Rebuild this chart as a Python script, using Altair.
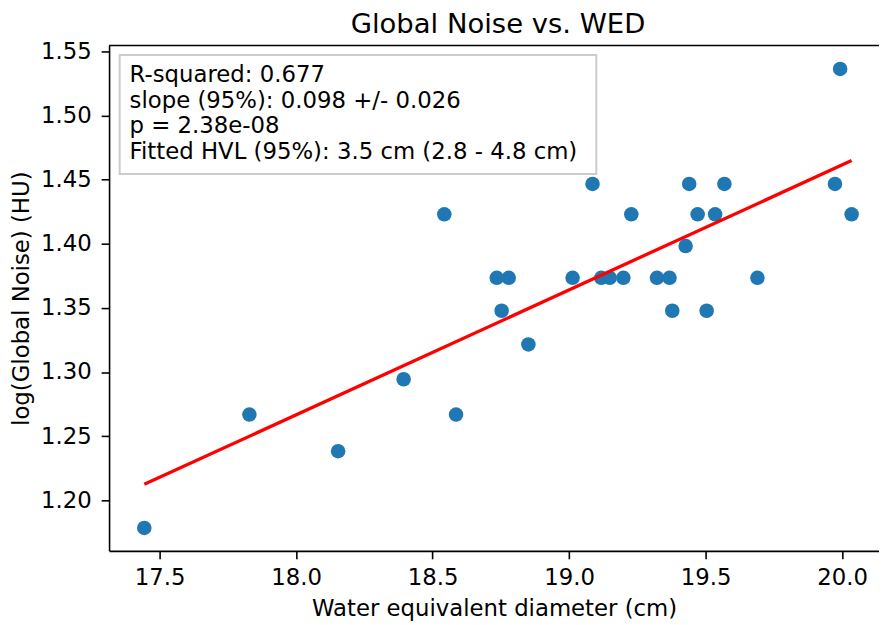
import altair as alt
import pandas as pd

# Data
wed_cm = [17.444, 17.829, 18.154, 18.394, 18.543, 18.586, 18.735, 18.753, 18.779, 18.851,
          19.013, 19.086, 19.118, 19.149, 19.199, 19.228, 19.322, 19.368, 19.378, 19.427,
          19.440, 19.471, 19.504, 19.535, 19.569, 19.690, 19.974, 19.993, 20.035]
log_noise = [1.1785, 1.2669, 1.2383, 1.2944, 1.4230, 1.2669, 1.3735, 1.3478, 1.3735, 1.3215,
             1.3735, 1.4467, 1.3735, 1.3735, 1.3735, 1.4230, 1.3735, 1.3735, 1.3478, 1.3982,
             1.4467, 1.4230, 1.3478, 1.4230, 1.4467, 1.3735, 1.4467, 1.5363, 1.4230]

x_ticks = [17.5, 18.0, 18.5, 19.0, 19.5, 20.0]
y_ticks = [1.20, 1.25, 1.30, 1.35, 1.40, 1.45, 1.50, 1.55]

title_text = "Global Noise vs. WED"
stats_lines = [
    "R-squared: 0.677",
    "slope (95%): 0.098 +/- 0.026",
    "p = 2.38e-08",
    "Fitted HVL (95%): 3.5 cm (2.8 - 4.8 cm)",
]

df = pd.DataFrame({"wed": wed_cm, "noise": log_noise})
one = pd.DataFrame({"k": [0]})

FONT = "DejaVu Sans"
W, H = 777, 510

x_enc = alt.X("wed:Q",
              scale=alt.Scale(domain=[17.315, 17.315 + W / 275.5], nice=False, zero=False),
              axis=alt.Axis(values=x_ticks, format=".1f", title="Water equivalent diameter (cm)",
                            titleY=65, titleBaseline="alphabetic", labelPadding=8))
y_enc = alt.Y("noise:Q",
              scale=alt.Scale(domain=[1.1606, 1.5546], nice=False, zero=False),
              axis=alt.Axis(values=y_ticks, format=".2f", title="log(Global Noise) (HU)",
                            titleX=-81, titleY=H / 2, titleBaseline="alphabetic",
                            titleAngle=-90, titleAlign="center", labelPadding=10))

base = alt.Chart(df)

points = base.mark_circle(size=215, color="#1f77b4", opacity=1).encode(x=x_enc, y=y_enc)

fit = base.transform_regression("wed", "noise").mark_line(
    color="#ff0000", strokeWidth=3.3).encode(x="wed:Q", y="noise:Q")

top_spine = alt.Chart(one).mark_rule(color="black", strokeWidth=1.6).encode(
    x=alt.value(0), x2=alt.value(W), y=alt.value(0))

box = alt.Chart(one).mark_rect(fill="white", fillOpacity=0.8, stroke="#cccccc",
                               strokeWidth=2).encode(
    x=alt.value(10.7), x2=alt.value(491.7), y=alt.value(9.7), y2=alt.value(129.7))

title = alt.Chart(one).mark_text(text=title_text, align="center", baseline="alphabetic",
                                 font=FONT, fontSize=27.7, color="black").encode(
    x=alt.value(392.5), y=alt.value(-13))

text_layers = []
baselines = [37, 63, 88.8, 114.7]
for line, yy in zip(stats_lines, baselines):
    text_layers.append(
        alt.Chart(one).mark_text(text=line, align="left", baseline="alphabetic",
                                 font=FONT, fontSize=23, color="black").encode(
            x=alt.value(20.7), y=alt.value(yy))
    )

chart = alt.layer(points, fit, top_spine, box, title, *text_layers).properties(
    width=W, height=H,
    autosize=alt.AutoSizeParams(type="none"),
    padding={"left": 102, "top": 35, "right": 0, "bottom": 75},
).configure_view(strokeWidth=0).configure_axis(
    grid=False, domainColor="black", domainWidth=1.6, tickColor="black", tickWidth=1.6,
    tickSize=8, labelFont=FONT, labelFontSize=23, labelColor="black",
    titleFont=FONT, titleFontSize=23, titleFontWeight="normal", titleColor="black",
    labelFlush=False, labelOverlap=False
)

chart.save("out.html", embed_options={"renderer": "svg", "actions": False})
